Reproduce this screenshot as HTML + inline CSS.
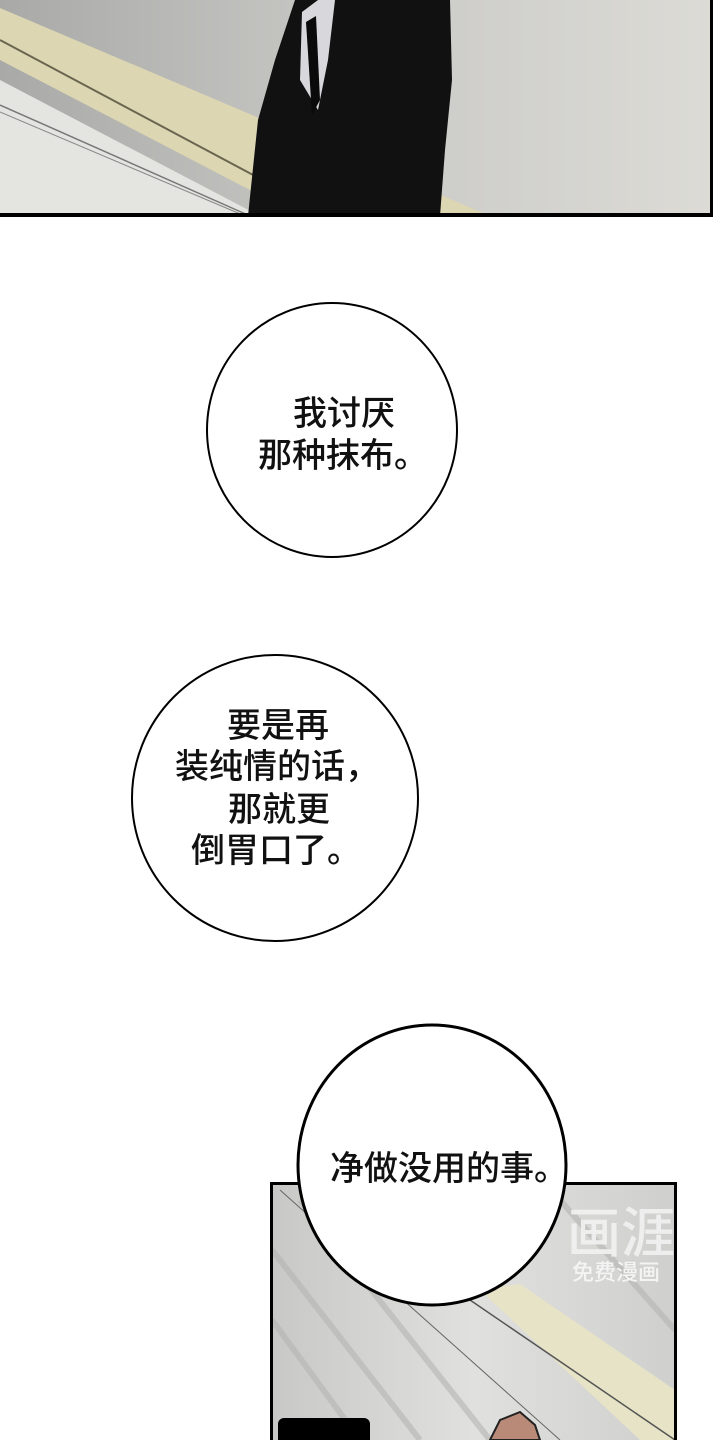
<!DOCTYPE html>
<html><head><meta charset="utf-8"><style>
html,body{margin:0;padding:0;background:#fff;width:720px;height:1440px;overflow:hidden}
svg{display:block}
text{font-family:"Liberation Sans","Noto Sans CJK SC",sans-serif;font-size:34px;font-weight:500;fill:#111}
</style></head><body>
<svg width="720" height="1440" viewBox="0 0 720 1440">
<defs>
<linearGradient id="bg1" x1="0" y1="0" x2="1" y2="0">
<stop offset="0" stop-color="#a9a9a7"/><stop offset="0.5" stop-color="#c9c9c6"/><stop offset="1" stop-color="#dcdbd6"/>
</linearGradient>
<linearGradient id="bg2" x1="0" y1="0" x2="1" y2="0">
<stop offset="0" stop-color="#c8c8c6"/><stop offset="0.5" stop-color="#e0e0de"/><stop offset="1" stop-color="#cfcfcd"/>
</linearGradient>
</defs>
<!-- top panel -->
<rect x="0" y="0" width="713" height="216" fill="url(#bg1)"/>
<polygon points="0,80 0,216 260,216" fill="#e4e4e0"/>
<polygon points="0,8 0,60 300,216 490,216" fill="#ddd6b2"/>
<line x1="0" y1="40" x2="330" y2="216" stroke="#6a6550" stroke-width="2"/>
<line x1="0" y1="105" x2="250" y2="216" stroke="#777" stroke-width="1.5"/>
<line x1="0" y1="112" x2="245" y2="216" stroke="#888" stroke-width="1"/>
<polygon points="295,0 450,0 452,80 445,150 440,216 248,216 258,120 275,60" fill="#111"/>
<polygon points="302,12 318,0 335,0 328,60 318,110 300,80" fill="#d8d8dc"/>
<polygon points="306,22 316,16 320,100 312,115" fill="#0a0a0a"/>
<rect x="0" y="213" width="713" height="4" fill="#000"/>
<rect x="710" y="0" width="3" height="217" fill="#000"/>
<!-- bottom panel -->
<rect x="272" y="1184" width="403" height="256" fill="url(#bg2)"/>
<g stroke="#b5b5b3" stroke-width="6" opacity="0.6">
<line x1="272" y1="1250" x2="420" y2="1440"/><line x1="272" y1="1320" x2="360" y2="1440"/>
<line x1="300" y1="1200" x2="490" y2="1440"/><line x1="560" y1="1200" x2="675" y2="1330"/>
</g>
<polygon points="480,1290 520,1284 675,1390 675,1440 640,1440" fill="#e7e3c6"/>
<line x1="470" y1="1300" x2="675" y2="1440" stroke="#555" stroke-width="1.5"/>
<line x1="280" y1="1190" x2="560" y2="1440" stroke="#666" stroke-width="1"/>
<path d="M490,1440 L500,1420 L520,1412 L535,1425 L540,1440Z" fill="#b98a78" stroke="#222" stroke-width="2"/>
<rect x="278" y="1418" width="92" height="30" rx="6" fill="#000"/>
<rect x="270" y="1182" width="407" height="3" fill="#000"/>
<rect x="270" y="1182" width="3" height="258" fill="#000"/>
<rect x="674" y="1182" width="3" height="258" fill="#000"/>
<!-- watermark -->
<text x="567" y="1252" style="font-size:54px;fill:#f2f2f2;opacity:0.9">画涯</text>
<text x="572" y="1280" style="font-size:22px;fill:#f4f4f4">免费漫画</text>
<!-- bubbles -->
<ellipse cx="332" cy="430" rx="125" ry="127" fill="#fff" stroke="#000" stroke-width="2"/>
<text x="293" y="425">我讨厌</text>
<text x="258" y="467">那种抹布。</text>
<ellipse cx="275" cy="798" rx="143" ry="143" fill="#fff" stroke="#000" stroke-width="2"/>
<text x="227" y="737">要是再</text>
<text x="175" y="778">装纯情的话，</text>
<text x="228" y="821">那就更</text>
<text x="191" y="862">倒胃口了。</text>
<ellipse cx="432" cy="1165" rx="134" ry="140" fill="#fff" stroke="#000" stroke-width="3"/>
<text x="330" y="1180">净做没用的事。</text>
</svg>
</body></html>
